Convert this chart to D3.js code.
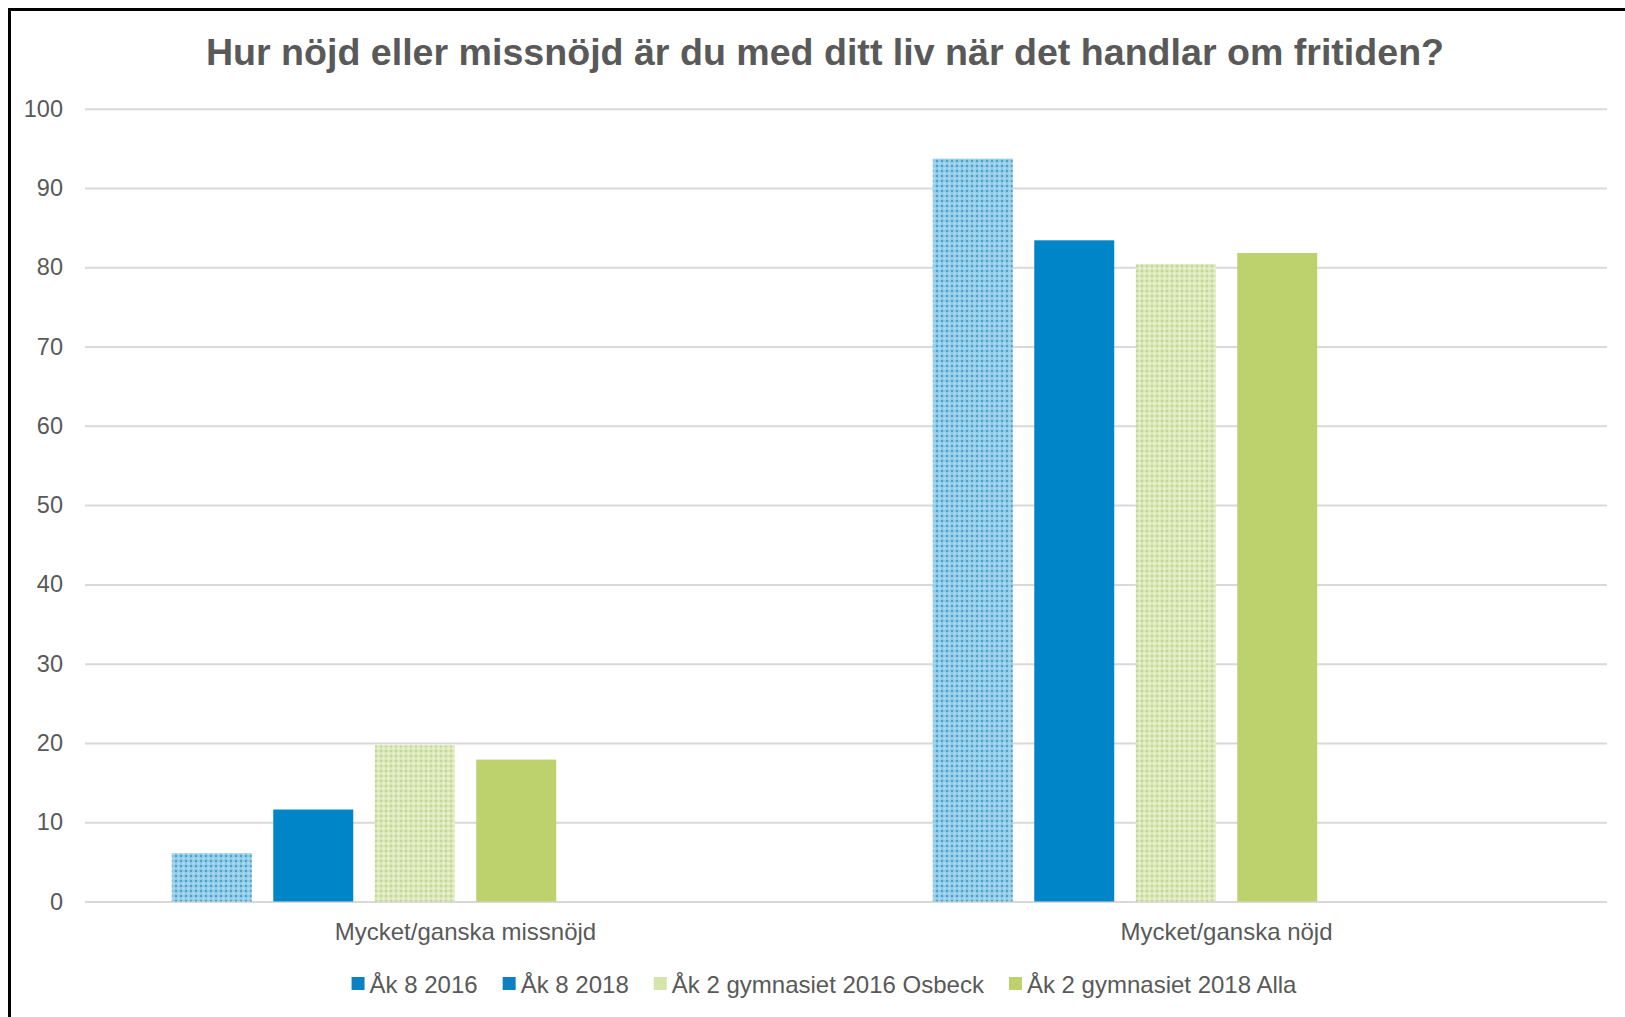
<!DOCTYPE html>
<html>
<head>
<meta charset="utf-8">
<script src="https://cdn.jsdelivr.net/npm/d3@7"></script>
<style>
  html, body { margin: 0; padding: 0; background: #fff; }
  svg { display: block; }
  text { font-family: "Liberation Sans", Arial, sans-serif; }
</style>
</head>
<body>
<script>
// ---- Data ----
const title = "Hur nöjd eller missnöjd är du med ditt liv när det handlar om fritiden?";
const categories = ["Mycket/ganska missnöjd", "Mycket/ganska nöjd"];
const seriesNames = ["Åk 8 2016", "Åk 8 2018", "Åk 2 gymnasiet 2016 Osbeck", "Åk 2 gymnasiet 2018 Alla"];
const ak8_2016 = [6.1, 93.7];
const ak8_2018 = [11.6, 83.4];
const gym_2016_osbeck = [19.7, 80.4];
const gym_2018_alla = [17.9, 81.8];
const seriesValues = [ak8_2016, ak8_2018, gym_2016_osbeck, gym_2018_alla];
const yTicks = [0, 10, 20, 30, 40, 50, 60, 70, 80, 90, 100];

// ---- Styles ----
const W = 1625, H = 1017;
const barFills = ["url(#patBlue)", "#0086c8", "url(#patGreen)", "#bdd16c"];
const legendFills = ["#0b80c2", "#0b80c2", "#d4e4aa", "#bdd16c"];
const textColor = "#595959";
const slotCount = 6; // the source chart reserves 6 bar slots per category

const svg = d3.select("body").append("svg").attr("width", W).attr("height", H);

// patterns
const defs = svg.append("defs");
function makePattern(id, base, dark, light) {
  const p = defs.append("pattern").attr("id", id).attr("patternUnits", "userSpaceOnUse")
    .attr("width", 5).attr("height", 5);
  p.append("rect").attr("width", 5).attr("height", 5).attr("fill", base);
  p.append("rect").attr("x", 0).attr("y", 0).attr("width", 2).attr("height", 2).attr("fill", dark);
  p.append("rect").attr("x", 2.5).attr("y", 2.5).attr("width", 2).attr("height", 2).attr("fill", light);
}
makePattern("patBlue", "#8fcbe7", "#4a9fcf", "#b6def1");
makePattern("patGreen", "#d9e7b6", "#c2d594", "#eef4dc");

svg.append("rect").attr("width", W).attr("height", H).attr("fill", "#fff");

// scales
const x0 = d3.scaleBand().domain(categories).range([85, 1607]);
const x1 = d3.scaleBand().domain(d3.range(slotCount)).range([0, x0.bandwidth()])
  .paddingInner(0.212).paddingOuter(0.855);
const y = d3.scaleLinear().domain([0, 100]).range([901.5, 108.7]);

// gridlines
const yAxis = d3.axisLeft(y).tickValues(yTicks).tickSize(-(1607 - 85)).tickPadding(22);
const gy = svg.append("g").attr("transform", "translate(85,0)").call(yAxis);
gy.select(".domain").remove();
gy.selectAll(".tick line").attr("stroke", "#d9d9d9").attr("stroke-width", 2);
gy.selectAll(".tick text").attr("fill", textColor).style("font-size", "23.5px")
  .style("font-family", "'Liberation Sans', Arial, sans-serif");

// bars
const groups = svg.append("g").selectAll("g").data(categories).join("g")
  .attr("transform", d => `translate(${x0(d)},0)`);
groups.selectAll("rect")
  .data((c, ci) => seriesValues.map((vals, si) => ({ si, v: vals[ci] })))
  .join("rect")
  .attr("x", d => x1(d.si))
  .attr("width", x1.bandwidth())
  .attr("y", d => y(d.v))
  .attr("height", d => y(0) - y(d.v))
  .attr("fill", d => barFills[d.si]);

// category labels
svg.append("g").selectAll("text").data(categories).join("text")
  .attr("x", d => x0(d) + x0.bandwidth() / 2)
  .attr("y", 940)
  .attr("text-anchor", "middle")
  .attr("fill", textColor)
  .style("font-size", "24px")
  .text(d => d);

// title
svg.append("text")
  .attr("x", 825).attr("y", 65)
  .attr("text-anchor", "middle")
  .attr("fill", textColor)
  .style("font-size", "37.6px").style("font-weight", "bold")
  .text(title);

// legend
const lg = svg.append("g");
const items = lg.selectAll("g").data(seriesNames).join("g");
items.append("rect").attr("width", 13).attr("height", 13).attr("y", 977)
  .attr("fill", (d, i) => legendFills[i]);
items.append("text").attr("x", 18).attr("y", 993).attr("fill", textColor)
  .style("font-size", "24px").text(d => d);
let xPos = 0;
const offsets = [];
items.each(function () {
  offsets.push(xPos);
  const w = d3.select(this).select("text").node().getComputedTextLength();
  xPos += 18 + w + 25;
});
const totalW = xPos - 25;
const startX = 824 - totalW / 2;
items.attr("transform", (d, i) => `translate(${startX + offsets[i]},0)`);

// frame (left and top borders)
svg.append("path").attr("d", `M9.5,${H} V9.5 H${W}`).attr("fill", "none")
  .attr("stroke", "#000").attr("stroke-width", 3);
</script>
</body>
</html>
